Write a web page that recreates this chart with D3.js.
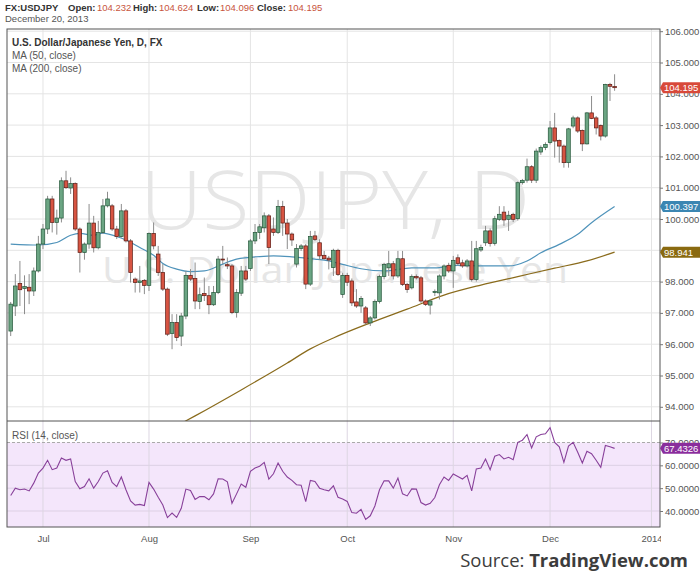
<!DOCTYPE html>
<html><head><meta charset="utf-8">
<script src="https://cdn.jsdelivr.net/npm/d3@7"></script>
<style>
html,body{margin:0;padding:0;background:#fff;}
svg{display:block;}
text{font-family:"Liberation Sans",Arial,sans-serif;}
</style></head>
<body><svg id="chart" width="700" height="581"></svg>
<script>
// ---------- data ----------
const firstDay = "2013-06-20", lastAxisDay = "2014-01-01";
const open = [96.42,97.22,97.94,97.78,97.82,97.70,98.34,99.20,99.68,100.64,99.89,100.03,101.22,100.99,101.13,99.68,98.93,99.20,99.87,99.08,
99.57,100.42,100.42,99.68,99.44,100.26,99.30,98.08,97.97,98.04,97.88,99.54,98.88,98.29,97.76,96.34,96.69,96.26,96.90,98.20,
98.10,97.36,97.62,97.55,97.26,97.65,98.72,98.54,98.50,97.01,97.63,98.34,98.42,99.30,99.57,99.72,100.10,99.68,99.57,100.40,
99.87,99.52,98.56,99.06,99.14,97.92,99.46,99.24,98.84,98.75,98.45,99.00,97.59,98.20,98.02,97.35,97.22,97.16,96.68,96.84,
97.36,98.16,98.44,98.57,98.18,98.73,97.91,97.80,98.16,98.12,97.38,97.25,97.65,97.64,98.18,98.52,98.34,98.76,98.60,98.50,
98.66,98.07,99.01,99.24,99.62,99.22,99.99,100.22,99.99,100.15,100.01,101.16,101.24,101.67,101.24,102.14,102.28,102.44,102.91,102.51,
102.33,101.80,102.97,103.23,102.83,102.40,103.39,103.23,102.99,102.65,104.30,104.232];
const high = [97.35,98.24,98.66,98.20,98.24,98.45,99.46,99.84,100.74,100.74,100.30,101.33,101.54,101.33,101.17,99.73,99.25,100.48,100.10,99.94,
100.64,100.87,100.48,99.78,100.48,100.32,99.36,98.13,98.50,98.08,99.57,99.89,99.14,98.56,97.81,96.96,96.96,97.00,98.34,98.40,
98.61,97.81,98.13,97.86,97.86,98.82,99.14,98.77,98.56,97.76,98.50,98.50,99.36,99.84,99.84,100.21,100.16,100.05,100.61,100.58,
100.00,99.57,99.20,99.20,99.20,99.62,99.62,99.35,98.98,98.82,99.05,99.05,98.28,98.28,98.10,97.76,97.54,97.22,96.90,97.43,
98.22,98.60,98.98,98.66,98.98,98.98,97.96,98.23,98.23,98.18,97.43,97.43,97.75,98.23,98.55,98.60,98.82,98.87,98.70,98.72,
99.30,99.30,99.18,99.78,99.70,100.10,100.41,100.41,100.26,100.20,101.20,101.28,101.93,101.72,102.25,102.35,102.45,103.13,103.39,102.54,
102.38,102.91,103.30,103.28,102.86,103.42,103.93,103.29,103.02,104.32,104.35,104.624];
const low = [96.26,96.90,97.22,96.96,97.28,97.54,98.29,99.04,99.52,99.57,99.50,99.89,100.96,100.80,99.62,98.29,98.70,99.05,98.93,99.03,
99.52,100.37,99.62,99.36,99.41,99.25,97.97,97.65,97.65,97.60,97.70,99.03,98.18,97.70,96.26,95.84,96.10,95.94,96.80,98.02,
97.12,97.12,97.38,96.96,97.22,97.60,98.56,98.40,96.96,96.85,97.54,98.02,98.34,99.20,99.36,99.57,98.56,99.46,99.52,99.46,
99.04,99.14,98.45,98.98,97.76,97.86,99.30,98.71,98.71,98.39,98.18,98.18,97.48,97.86,97.22,97.16,97.00,96.63,96.58,96.79,
97.30,98.07,98.18,98.07,98.12,97.86,97.64,97.75,98.07,97.32,97.22,96.95,97.54,97.43,98.07,98.28,97.80,98.50,98.44,98.45,
98.00,98.00,98.95,99.14,99.12,99.15,99.94,99.78,99.62,99.90,99.95,101.10,101.16,101.15,101.15,102.05,102.20,102.38,101.96,101.80,
101.64,101.64,102.90,102.75,102.17,102.38,103.19,102.70,102.51,102.60,103.77,104.096];
const close = [97.28,97.86,97.74,97.84,97.70,98.34,99.20,99.68,100.64,99.89,100.03,101.22,101.00,101.13,99.68,98.93,99.20,99.87,99.08,99.57,
100.42,100.64,99.68,99.44,100.26,99.30,98.29,97.97,98.02,97.88,99.54,99.14,98.29,97.76,96.32,96.69,96.21,96.90,98.20,98.08,
97.38,97.58,97.55,97.26,97.65,98.72,98.69,98.50,97.01,97.65,98.34,98.08,99.30,99.57,99.75,100.10,99.09,99.57,100.40,99.87,
99.52,99.33,99.06,99.14,97.92,99.44,99.35,98.82,98.73,98.69,99.00,98.23,98.20,97.98,97.32,97.22,97.46,96.68,96.84,97.36,
98.16,98.55,98.57,98.18,98.73,97.91,97.75,98.16,98.12,97.38,97.27,97.38,97.68,98.18,98.50,98.34,98.68,98.58,98.50,98.66,
98.07,99.05,99.09,99.62,99.22,100.01,100.15,99.97,100.12,99.99,101.16,101.23,101.67,101.24,102.17,102.28,102.38,102.91,102.49,102.33,
101.80,102.88,103.23,102.81,102.40,103.39,103.21,102.91,102.65,104.30,104.24,104.195];
const rsi = [46.8,50,49.3,49.6,48.8,52.2,56.6,58.8,62.2,58.1,58.8,63.2,62.2,62.8,52.9,49.7,50.7,54.1,50,52.9,
56.6,57.6,52.5,50.7,54.9,49.3,44.4,42.6,42.9,42.4,52.5,49.6,46.0,42.6,37.1,39.1,37.2,41.2,49.6,49.0,
45.1,46.3,46.3,44.9,47.5,54.1,54.0,52.8,43.4,47.5,51.8,50.4,57.4,58.8,59.6,61.3,54.0,56.3,61.0,57.4,
54.9,53.4,51.5,51.3,44.1,53.4,52.9,50,49.3,48.8,51,46.0,45.3,44.2,39.3,39.0,40.7,36.3,37.9,42.2,
49.3,53.2,53.2,50,54.4,47.5,46.6,49.7,49.6,43.7,42.6,43.4,45.9,51.5,54.9,53.4,56.2,55.1,54.0,55.6,
48.8,58.4,58.8,62.8,58.1,64,64.7,62.8,63.5,62.5,70.1,71,73.5,67.6,72.5,73.5,73.8,76.5,70,68.1,
61.3,68.4,70.1,65.7,61.0,66.2,65.1,62.2,59.1,68.7,68.1,67.4326];
const ma50Bars = [0,6,10,13,15,18,20,23,25,28,31,33,36,39,42,46,49,54,57,61,66,69,72,76,81,87,92,97,103,108,112,115,119,123,126,131];
const ma50Vals = [99.20,99.17,99.25,99.48,99.54,99.48,99.55,99.44,99.33,99.09,98.84,98.58,98.40,98.32,98.34,98.56,98.72,98.80,98.82,98.79,
98.72,98.66,98.55,98.41,98.34,98.44,98.44,98.52,98.50,98.50,98.66,98.92,99.19,99.51,99.88,100.397];
const ma200Bars = [34,40,50,60,65,70,78,86,94,102,110,118,125,131];
const ma200Vals = [93.23,93.71,94.54,95.40,95.85,96.20,96.68,97.12,97.57,97.89,98.16,98.43,98.66,98.941];
const priceTicks = [94,95,96,97,98,99,100,101,102,103,104,105,106];
const rsiTicks = [40,50,60,70];
const header = {symbol:"FX:USDJPY", open:"104.232", high:"104.624", low:"104.096", close:"104.195", date:"December 20, 2013"};

// ---------- setup ----------
const svg = d3.select("#chart");
const parse = d3.timeParse("%Y-%m-%d");
const dates = d3.timeDay.range(parse(firstDay), d3.timeDay.offset(parse(lastAxisDay),1))
  .filter(d => d.getDay() !== 0 && d.getDay() !== 6);
const N = close.length;

const L = 7, R = 660, T = 29, MB = 421, RB = 527;
const x = d3.scaleLinear().domain([0, N-1]).range([10.7, 614.6]);
const y = d3.scaleLinear().domain([94, 105]).range([406.8, 62.5]);
const yr = d3.scaleLinear().domain([40, 70]).range([511, 442.5]);

const defs = svg.append("defs");
defs.append("clipPath").attr("id","cMain").append("rect").attr("x",L).attr("y",T).attr("width",R-L).attr("height",MB-T);
defs.append("clipPath").attr("id","cRsi").append("rect").attr("x",L).attr("y",MB).attr("width",R-L).attr("height",RB-MB);
defs.append("clipPath").attr("id","cAxis").append("rect").attr("x",0).attr("y",T).attr("width",700).attr("height",RB-T+40);
defs.append("clipPath").attr("id","cX").append("rect").attr("x",0).attr("y",RB).attr("width",R+1).attr("height",40);

// month ticks (first trading day per month)
const monthIdx = [];
dates.forEach((d,i) => { if (i>0 && d.getMonth() !== dates[i-1].getMonth()) monthIdx.push(i); });
const fmtMonth = i => dates[i].getMonth() === 0 ? d3.timeFormat("%Y")(dates[i]) : d3.timeFormat("%b")(dates[i]);

// ---------- main panel ----------
const gMain = svg.append("g").attr("clip-path","url(#cMain)");
gMain.selectAll(".hg").data(priceTicks).join("line")
  .attr("x1",L).attr("x2",R).attr("y1",d=>y(d)).attr("y2",d=>y(d))
  .attr("stroke","#e4e4e4").attr("stroke-width",1);
gMain.selectAll(".vg").data(monthIdx).join("line")
  .attr("x1",d=>x(d)).attr("x2",d=>x(d)).attr("y1",T).attr("y2",MB)
  .attr("stroke","#e4e4e4").attr("stroke-width",1);
// watermark
gMain.append("text").attr("x",140).attr("y",229)
  .attr("textLength",390).attr("lengthAdjust","spacingAndGlyphs")
  .style("font-family","'Open Sans',sans-serif").style("font-size","81px").style("font-weight","300")
  .attr("fill","#e6e6e6").text("USDJPY, D");
gMain.append("text").attr("x",102).attr("y",283)
  .attr("textLength",466).attr("lengthAdjust","spacingAndGlyphs")
  .style("font-family","'Open Sans',sans-serif").style("font-size","37px")
  .attr("fill","#e6e6e6").text("U.S. Dollar/Japanese Yen");

// MA lines
const lineMA = (bars) => d3.line().x((d,k)=>x(bars[k])).y(d=>y(d)).curve(d3.curveMonotoneX);
gMain.append("path").datum(ma200Vals).attr("d",lineMA(ma200Bars))
  .attr("fill","none").attr("stroke","#8a6b1c").attr("stroke-width",1.2);
gMain.append("path").datum(ma50Vals).attr("d",lineMA(ma50Bars))
  .attr("fill","none").attr("stroke","#4f93ba").attr("stroke-width",1.2);

// candles
const idx = d3.range(N);
const up = i => close[i] >= open[i];
gMain.selectAll(".wick").data(idx).join("line")
  .attr("x1",i=>x(i)).attr("x2",i=>x(i)).attr("y1",i=>y(high[i])).attr("y2",i=>y(low[i]))
  .attr("stroke","#8c8c8c").attr("stroke-width",1);
const bw = 3.6;
gMain.selectAll(".body").data(idx).join("rect")
  .attr("x",i=>x(i)-bw/2).attr("width",bw)
  .attr("y",i=>y(Math.max(open[i],close[i])))
  .attr("height",i=>Math.max(0.8, Math.abs(y(open[i])-y(close[i]))))
  .attr("fill",i=>up(i)?"#6ba583":"#d75442")
  .attr("stroke",i=>up(i)?"#225437":"#5b1a13").attr("stroke-width",0.7);

// legend text
const leg = svg.append("g");
leg.append("text").attr("x",12).attr("y",46).style("font-size","10px").style("font-weight","bold").attr("fill","#333").text("U.S. Dollar/Japanese Yen, D, FX");
leg.append("text").attr("x",12).attr("y",59).style("font-size","10px").attr("fill","#555").text("MA (50, close)");
leg.append("text").attr("x",12).attr("y",72).style("font-size","10px").attr("fill","#555").text("MA (200, close)");

// ---------- RSI panel ----------
const gR = svg.append("g").attr("clip-path","url(#cRsi)");
gR.append("rect").attr("x",L).attr("width",R-L).attr("y",yr(70)).attr("height",yr(30)-yr(70)).attr("fill","#f4e6fb");
gR.selectAll(".rg").data(rsiTicks.filter(d=>d<70)).join("line")
  .attr("x1",L).attr("x2",R).attr("y1",d=>yr(d)).attr("y2",d=>yr(d)).attr("stroke","#ddd0e4");
gR.selectAll(".rv").data(monthIdx).join("line")
  .attr("x1",d=>x(d)).attr("x2",d=>x(d)).attr("y1",MB).attr("y2",RB).attr("stroke","#ddd6e2");
gR.append("line").attr("x1",L).attr("x2",R).attr("y1",yr(70)).attr("y2",yr(70))
  .attr("stroke","#aaa").attr("stroke-dasharray","3,2");
gR.append("path").datum(rsi).attr("d",d3.line().x((d,i)=>x(i)).y(d=>yr(d)))
  .attr("fill","none").attr("stroke","#88409a").attr("stroke-width",1.1);
svg.append("text").attr("x",12).attr("y",439).style("font-size","10px").attr("fill","#555").text("RSI (14, close)");

// ---------- borders ----------
svg.append("rect").attr("x",L).attr("y",T).attr("width",R-L).attr("height",RB-T).attr("fill","none").attr("stroke","#555");
svg.append("line").attr("x1",L).attr("x2",R).attr("y1",MB).attr("y2",MB).attr("stroke","#555");

// ---------- axes ----------
const gAx = svg.append("g").attr("clip-path","url(#cAxis)");
const yAxis = d3.axisRight(y).tickValues(priceTicks).tickFormat(d3.format(".3f")).tickSize(3).tickPadding(2);
const ga = gAx.append("g").attr("transform",`translate(${R},0)`).call(yAxis);
const rAxis = d3.axisRight(yr).tickValues(rsiTicks).tickFormat(d3.format(".4f")).tickSize(3).tickPadding(2);
const gr = gAx.append("g").attr("transform",`translate(${R},0)`).call(rAxis);
[ga,gr].forEach(g=>{
  g.select(".domain").remove();
  g.selectAll("line").attr("stroke","#777");
  g.selectAll("text").attr("fill","#555").style("font-size","9.5px").style("font-family","'Liberation Sans',Arial,sans-serif");
});
const xAxis = d3.axisBottom(x).tickValues(monthIdx).tickFormat(fmtMonth).tickSize(0).tickPadding(8);
const gx = svg.append("g").attr("clip-path","url(#cX)").append("g").attr("transform",`translate(0,${RB})`).call(xAxis);
gx.select(".domain").remove();
gx.selectAll("text").attr("fill","#555").style("font-size","9.5px").style("font-family","'Liberation Sans',Arial,sans-serif");

// ---------- price tags ----------
function tag(yv, txt, col){
  const g = svg.append("g");
  g.append("path").attr("d",`M${R},${yv} L${R+3},${yv-5.5} H${R+40} V${yv+5.5} H${R+3} Z`).attr("fill",col);
  g.append("text").attr("x",R+4).attr("y",yv+3.5).attr("fill","#fff").style("font-size","9.5px").text(txt);
}
tag(y(close[N-1]), d3.format(".3f")(close[N-1]), "#d8493a");
tag(y(ma50Vals[ma50Vals.length-1]), d3.format(".3f")(ma50Vals[ma50Vals.length-1]), "#3b86b2");
tag(y(ma200Vals[ma200Vals.length-1]), d3.format(".3f")(ma200Vals[ma200Vals.length-1]), "#8a6a10");
tag(yr(rsi[N-1]), d3.format(".4f")(rsi[N-1]), "#8a2d9c");

// ---------- header ----------
const h = svg.append("text").attr("y",11).style("font-size","9.5px");
h.append("tspan").attr("x",5).style("font-weight","bold").attr("fill","#333").text(header.symbol);
const parts = [["Open:",header.open,68,97],["High:",header.high,133,159],["Low:",header.low,197,220],["Close:",header.close,257,288]];
parts.forEach(p=>{
  h.append("tspan").attr("x",p[2]).style("font-weight","bold").attr("fill","#333").text(p[0]);
  h.append("tspan").attr("x",p[3]).attr("fill","#c8553d").text(p[1]);
});
svg.append("text").attr("x",5).attr("y",22).style("font-size","9.5px").attr("fill","#555").text(header.date);

// ---------- source ----------
const s = svg.append("text").attr("x",688).attr("y",567).attr("text-anchor","end")
  .style("font-family","'Open Sans',sans-serif").style("font-size","21px").attr("fill","#3c3c3c");
s.append("tspan").text("Source: ");
s.append("tspan").style("font-weight","bold").text("TradingView.com");
const w = s.node().getComputedTextLength();
if (w > 228) s.style("font-size", (21*228/w).toFixed(2)+"px");
</script></body></html>
